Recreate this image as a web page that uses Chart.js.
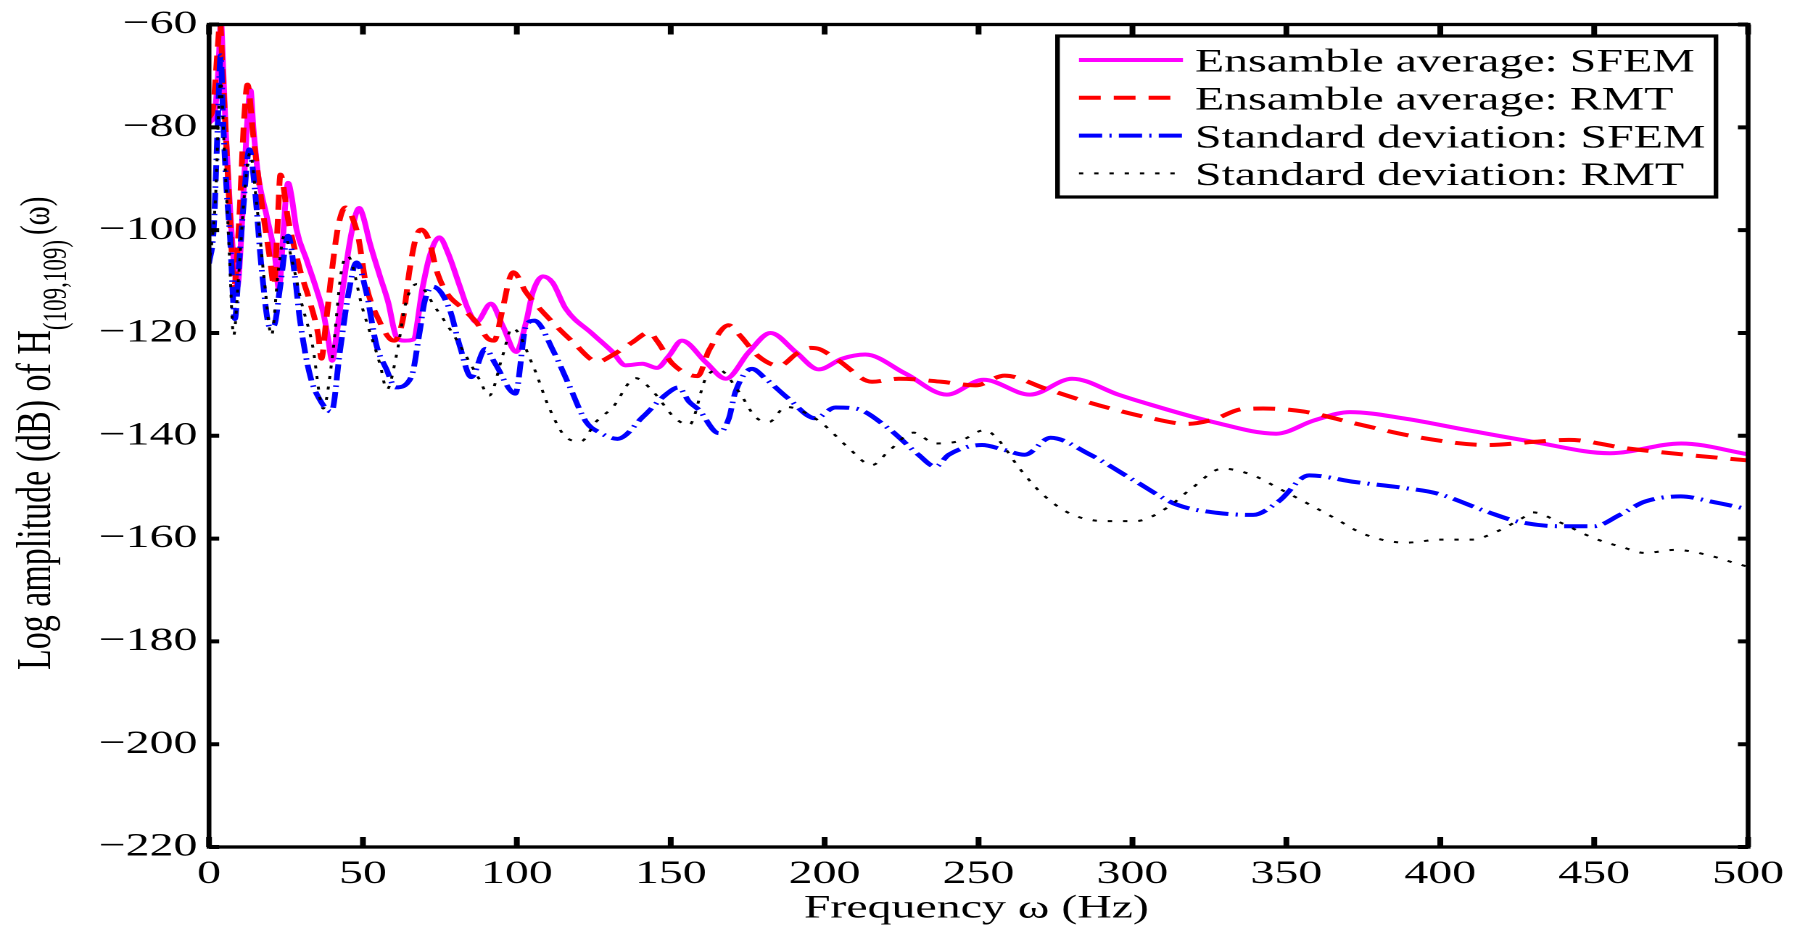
<!DOCTYPE html>
<html>
<head>
<meta charset="utf-8">
<script src="https://cdn.jsdelivr.net/npm/chart.js@4.4.0/dist/chart.umd.min.js"></script>
<style>
  html, body { margin: 0; padding: 0; background: #fff; overflow: hidden; }
  /* the reference figure is stretched sideways, so the whole chart is drawn narrow and scaled */
  #wrap { width: 1241px; height: 925px; transform: scaleX(1.4504); transform-origin: 0 0; }
</style>
</head>
<body>
<div id="wrap"><canvas id="chart" width="1241" height="925"></canvas></div>
<script>
// Ensamble average: SFEM
const sfemMeanHz = [0, 1.9, 3.0, 3.9, 4.6, 5.5, 6.6, 7.9, 9.2, 10.6, 12.2, 13.5, 14.4, 16, 18.7, 21.4, 22.7, 24.1, 25, 25.7,
  26.8, 28.4, 31.7, 34.9, 37.1, 38.7, 40, 41.4, 43.6, 46.3, 48.8, 50, 52.2, 55.5, 58.2, 60.9, 63.5, 66.3, 69.5, 71.7,
  74.8, 77.6, 81.4, 84.1, 86.8, 91.6, 95.4, 99.8, 103, 105.2, 108.5, 111.6, 115.9, 124.6, 131.1, 135.3, 140.8, 145.5, 149.5, 153.6,
  161.4, 167.9, 175.4, 182.4, 190.6, 198.1, 205.7, 213.2, 226.2, 239.7, 251.6, 266.7, 280.4, 295.4, 302.8, 326, 346.7, 359.1, 370.7, 388.9,
  408.7, 430.3, 455.1, 478.3, 500];
const sfemMeanDb = [-79.2, -77.0, -69, -59.5, -68.5, -81.5, -93.4, -105, -111, -100, -81, -72.8, -80, -89.5, -97.2, -105, -111.4, -101, -93.4, -90.8,
  -93.4, -99.8, -105.8, -111.5, -116, -121.1, -125.4, -120.5, -110.8, -100.5, -95.7, -97.2, -102.4, -108.9, -114, -120.8, -121.5, -121.3, -110.8, -105,
  -101.4, -104.4, -110.8, -115.3, -117.9, -114.3, -118.6, -123.7, -117.9, -112.1, -109, -110.2, -115.3, -120.2, -123.7, -126.3, -126, -126.8, -124.4, -121.5,
  -125.7, -128.9, -123.7, -120, -123.7, -127.1, -125, -124.2, -127.9, -132, -129.1, -132, -128.9, -132, -133.4, -137.3, -139.6, -137, -135.4, -136.7,
  -138.9, -141.2, -143.4, -141.5, -143.6];

// Ensamble average: RMT
const rmtMeanHz = [0, 1.4, 2.7, 3.6, 4.4, 5.5, 6.8, 8.2, 9.8, 11.4, 12.5, 14.4, 17.1, 19.8, 21.1, 22.2, 23.2, 25.7, 29.5, 32.8,
  35.5, 36.5, 38, 39.8, 41.9, 44.3, 46.5, 48.4, 51.1, 55.5, 58.7, 60.3, 63, 65.2, 67.4, 69, 71.7, 73.8, 77.1, 82.5,
  86.8, 90.6, 92.6, 95.4, 97.6, 98.9, 103, 109.5, 118.3, 126.3, 131.1, 137.6, 143, 145.5, 150.6, 158.7, 162.5, 168.8, 172.2, 178.4,
  185.3, 191, 195.5, 198.1, 204.6, 215.4, 224.1, 237.9, 249, 258.5, 271.6, 283.5, 292.9, 306.1, 317.7, 326, 335.9, 342.5, 355.7, 372.3,
  392.1, 415.3, 430.2, 441.8, 460, 479.9, 500];
const rmtMeanDb = [-78.2, -75.9, -65.6, -59.5, -68.8, -81.8, -97.2, -110.8, -97.9, -78.5, -71.7, -81.8, -94.7, -105.6, -110.8, -100, -89.2, -97.9, -107.6, -114,
  -120.5, -125, -118, -108.5, -99.5, -95.6, -97.5, -101.1, -110.8, -117.9, -121.1, -121.5, -117.3, -107.6, -101.1, -99.9, -102.4, -107.6, -112.1, -115.3,
  -117.9, -121.1, -121.5, -115.3, -109.5, -108.2, -112.1, -116.6, -121.8, -125.6, -124.3, -121.8, -119.9, -121.5, -126, -128.4, -123.3, -118.5, -120.3, -124.5,
  -126.4, -124, -122.9, -123.1, -125.4, -129.5, -128.9, -129.5, -130.2, -128.3, -130.8, -133.1, -134.7, -136.6, -137.7, -136.9, -134.8, -134.7, -135.3, -137.6,
  -140.2, -141.8, -141.2, -140.8, -142.4, -143.7, -144.8];

// Standard deviation: SFEM
const sfemStdHz = [0, 1.5, 2.8, 3.8, 4.6, 5.7, 6.8, 8.4, 9.6, 11.1, 13.1, 14.9, 17.1, 19.8, 21.2, 23, 25.7, 27.9, 29.5, 32.8,
  36, 39.8, 42.5, 45.2, 47.9, 51.1, 54.4, 57.6, 60.6, 65.7, 68.4, 70, 72.7, 78.1, 81.4, 85.2, 89.8, 93, 99.5, 103,
  105.7, 112, 117, 122.5, 127, 132.7, 141, 148.4, 152.5, 156, 159.2, 165.6, 168.9, 171, 176.4, 180.8, 188.3, 197, 203.5, 210,
  220.8, 230.5, 236, 240.3, 251.1, 258, 265, 273.4, 286, 301.1, 314.4, 327.6, 339.2, 347.4, 357.4, 372.3, 388.8, 398.8, 415.3, 425.2,
  438.4, 450, 458.3, 466.5, 478.1, 488, 500];
const sfemStdDb = [-106.5, -100, -80, -66, -79, -92, -101, -117.3, -108, -96, -84.3, -92.1, -107.6, -118.9, -118.5, -111.5, -101.1, -108.9, -117.3, -128.2,
  -133, -135.3, -123.7, -112.7, -106.3, -112.1, -122.4, -127, -130.6, -128.6, -119.9, -114, -111, -115.3, -122.4, -128.6, -123.1, -126, -131.8, -118.6,
  -117.6, -123.7, -130.2, -137.3, -139.4, -140.6, -136.3, -132, -130.6, -133.4, -135, -139.5, -136.6, -131.5, -127, -128.9, -132.8, -136.6, -134.5, -134.7,
  -138.6, -143.7, -146, -143.7, -141.8, -142.7, -143.7, -140.4, -143.6, -148.9, -153.4, -155, -155.4, -152.8, -147.7, -149, -150.2, -151.2, -154.8, -156.7,
  -157.6, -157.6, -155.4, -152.8, -151.8, -152.8, -154.3];

// Standard deviation: RMT
const rmtStdHz = [0, 2, 3.8, 5, 6.5, 8, 9.5, 11.5, 13.3, 15.5, 18, 20.3, 22.5, 24.5, 27, 30, 33.5, 37.1, 40, 43,
  45, 50, 55.5, 57.8, 61, 64, 67.5, 73.8, 80.3, 87.7, 91, 95.4, 98.5, 105.2, 110.6, 116, 120.8, 125.7, 131.1, 138.6,
  144.1, 151.3, 156, 161.4, 165.6, 172.2, 177.6, 182, 187.3, 190.6, 199, 207.3, 215.4, 220.8, 228.9, 236, 244, 252, 256, 263.5,
  271, 280.3, 291.1, 301.1, 311, 319.3, 329.2, 339.2, 347.4, 355.7, 365.6, 375.5, 388.8, 400.3, 410.2, 418.5, 426.7, 430, 438.3, 449.8,
  459.8, 466.4, 476.3, 486.2, 495.3, 500];
const rmtStdDb = [-107, -95, -71, -85, -103, -120.5, -110, -93, -85, -95, -110, -120.5, -108, -101, -106, -114, -122, -134.7, -125, -108,
  -105, -115.5, -126, -131, -124, -114, -110.5, -115.3, -121.2, -128.9, -132.2, -124.4, -119, -126.3, -134.7, -140.3, -141.1, -137.3, -134.5, -128.8,
  -131.3, -136.5, -137.9, -128.8, -127.2, -131.5, -136.4, -137.3, -134.4, -134.7, -137.5, -142.1, -145.7, -143, -139.4, -141.5, -141, -138.9, -140.5, -146.5,
  -151.5, -155.3, -156.6, -156.6, -154.1, -150.2, -146.4, -147.7, -150.2, -152.8, -156, -159.2, -160.8, -160.2, -160.2, -158.6, -156, -154.9, -156.7, -159.9,
  -161.8, -162.8, -162.2, -163.1, -164.7, -165.5];

const seriesLabels = ['Ensamble average: SFEM', 'Ensamble average: RMT', 'Standard deviation: SFEM', 'Standard deviation: RMT'];
const xTicksHz = [0, 50, 100, 150, 200, 250, 300, 350, 400, 450, 500];
const yTicksDb = [-220, -200, -180, -160, -140, -120, -100, -80, -60];

const FONT = '"Liberation Serif", "Times New Roman", serif';
const toPoints = (xs, ys) => xs.map((x, i) => ({ x, y: ys[i] }));

// black box with ticks pointing inwards on all four sides
const frameTicks = {
  id: 'frameTicks',
  afterDraw(chart) {
    const { ctx, chartArea: a, scales: { x, y } } = chart;
    ctx.save();
    ctx.strokeStyle = '#000';
    ctx.lineWidth = 4;
    ctx.beginPath();
    x.ticks.forEach(t => {
      const px = x.getPixelForValue(t.value);
      ctx.moveTo(px, a.bottom); ctx.lineTo(px, a.bottom - 10);
      ctx.moveTo(px, a.top); ctx.lineTo(px, a.top + 10);
    });
    y.ticks.forEach(t => {
      const py = y.getPixelForValue(t.value);
      ctx.moveTo(a.left, py); ctx.lineTo(a.left + 7, py);
      ctx.moveTo(a.right, py); ctx.lineTo(a.right - 7, py);
    });
    ctx.stroke();
    ctx.lineWidth = 3.3;
    ctx.strokeRect(a.left, a.top, a.right - a.left, a.bottom - a.top);
    ctx.restore();
  }
};

// axis titles (the y title has a subscript, so it is drawn by hand)
const axisTitles = {
  id: 'axisTitles',
  afterDraw(chart) {
    const { ctx, chartArea: a } = chart;
    ctx.save();
    ctx.fillStyle = '#000';
    ctx.font = '33px ' + FONT;
    ctx.textAlign = 'center';
    ctx.textBaseline = 'middle';
    ctx.fillText('Frequency \u03c9 (Hz)', (a.left + a.right) / 2 - 1.5, 909);

    ctx.translate(34.5, 670);
    ctx.rotate(-Math.PI / 2);
    ctx.textAlign = 'left';
    ctx.textBaseline = 'alphabetic';
    ctx.font = '34px ' + FONT;
    const main = 'Log amplitude (dB) of H';
    ctx.fillText(main, 0, 0);
    let u = ctx.measureText(main).width;
    ctx.font = '23px ' + FONT;
    ctx.fillText('(109,109)', u, 11);
    u += ctx.measureText('(109,109)').width + 5;
    ctx.font = '29px ' + FONT;
    ctx.fillText('(\u03c9)', u, -1);
    ctx.restore();
  }
};

// boxed legend in the upper right, using each dataset's own line style
const boxLegend = {
  id: 'boxLegend',
  afterDraw(chart) {
    const { ctx } = chart;
    const left = 729.1, right = 1183.1, top = 36, bottom = 197;
    ctx.save();
    ctx.fillStyle = '#fff';
    ctx.fillRect(left, top, right - left, bottom - top);
    ctx.strokeStyle = '#000';
    ctx.lineWidth = 3.2;
    ctx.strokeRect(left, top, right - left, bottom - top);
    ctx.font = '33px ' + FONT;
    ctx.textAlign = 'left';
    ctx.textBaseline = 'alphabetic';
    chart.data.datasets.forEach((ds, i) => {
      const yRow = 60 + i * 37.8;
      ctx.strokeStyle = ds.borderColor;
      ctx.lineWidth = ds.borderWidth;
      ctx.setLineDash(ds.borderDash || []);
      ctx.beginPath();
      ctx.moveTo(743.9, yRow);
      ctx.lineTo(815.6, yRow);
      ctx.stroke();
      ctx.setLineDash([]);
      ctx.fillStyle = '#000';
      ctx.fillText(ds.label, 823.9, yRow + 11.7);
    });
    ctx.restore();
  }
};

const tickFont = { family: FONT, size: 33, lineHeight: 1 };

new Chart(document.getElementById('chart'), {
  type: 'line',
  data: {
    datasets: [
      { label: seriesLabels[0], data: toPoints(sfemMeanHz, sfemMeanDb), borderColor: '#ff00ff', borderWidth: 4, order: 4 },
      { label: seriesLabels[1], data: toPoints(rmtMeanHz, rmtMeanDb), borderColor: '#ff0000', borderWidth: 4, borderDash: [15, 9], order: 3 },
      { label: seriesLabels[2], data: toPoints(sfemStdHz, sfemStdDb), borderColor: '#0000ff', borderWidth: 4, borderDash: [16, 5, 1.5, 5], order: 2 },
      { label: seriesLabels[3], data: toPoints(rmtStdHz, rmtStdDb), borderColor: '#000000', borderWidth: 2, borderDash: [3, 7.5], order: 1 }
    ]
  },
  options: {
    responsive: false,
    animation: false,
    devicePixelRatio: 2,
    layout: { padding: { top: 21, right: 33.7, bottom: 0, left: 0 } },
    elements: {
      point: { radius: 0 },
      line: { cubicInterpolationMode: 'monotone', fill: false, borderCapStyle: 'butt' }
    },
    plugins: { legend: { display: false }, tooltip: { enabled: false } },
    scales: {
      x: {
        type: 'linear', min: 0, max: 500,
        grid: { display: false, drawTicks: false },
        border: { display: false },
        afterBuildTicks: s => { s.ticks = xTicksHz.map(v => ({ value: v })); },
        ticks: { font: tickFont, color: '#000', padding: 11, maxRotation: 0, autoSkip: false },
        afterFit: s => { s.height = 78; }
      },
      y: {
        type: 'linear', min: -220, max: -60,
        grid: { display: false, drawTicks: false },
        border: { display: false },
        afterBuildTicks: s => { s.ticks = yTicksDb.map(v => ({ value: v })); },
        ticks: {
          font: tickFont, color: '#000', padding: 8, autoSkip: false,
          callback: v => String(v).replace('-', '\u2212')
        },
        afterFit: s => { s.width = 144.1; }
      }
    }
  },
  plugins: [frameTicks, axisTitles, boxLegend]
});
</script>
</body>
</html>
